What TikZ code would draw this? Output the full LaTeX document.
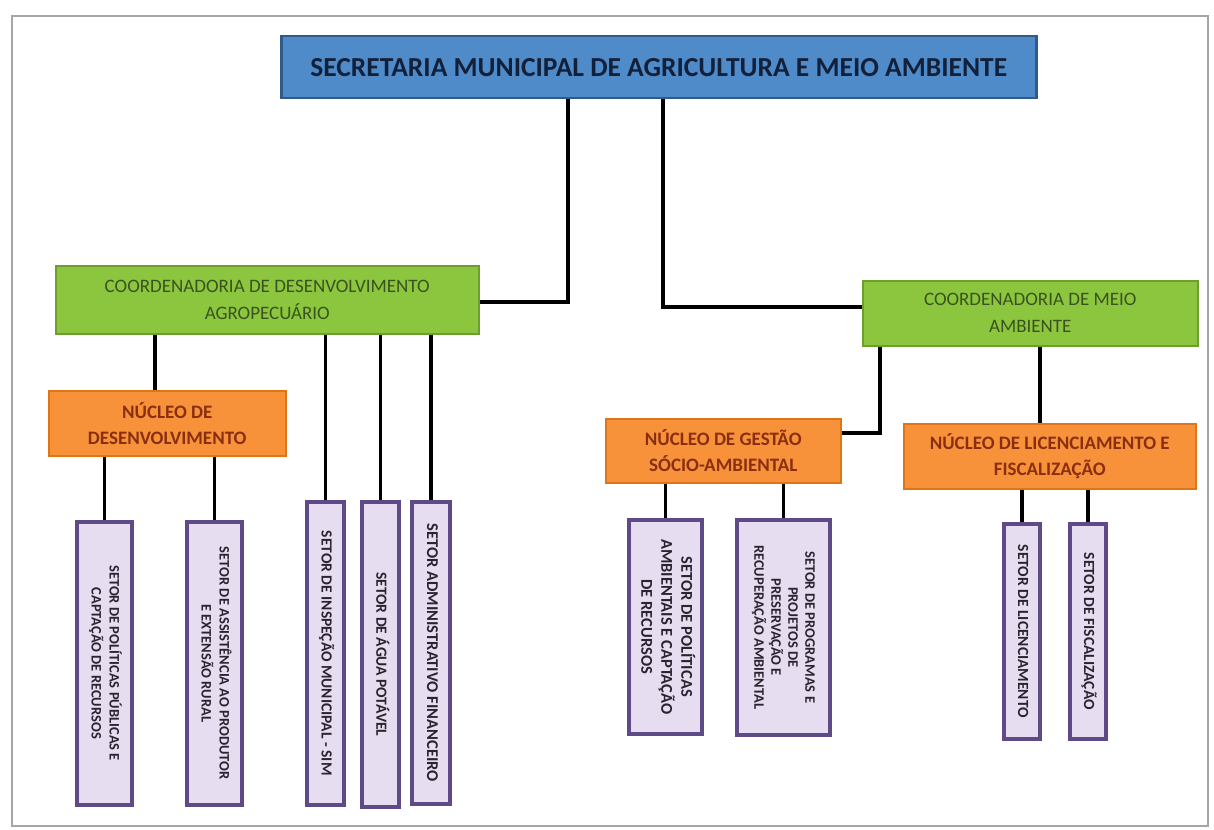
\documentclass[tikz,border=0pt]{standalone}
\usepackage{fontspec}
\setmainfont{Carlito}
\usepackage{graphicx}
\definecolor{topfill}{HTML}{4F8BC9}
\definecolor{topdraw}{HTML}{2F5A8A}
\definecolor{toptext}{HTML}{13203A}
\definecolor{grfill}{HTML}{8CC63F}
\definecolor{grdraw}{HTML}{6E9E2E}
\definecolor{grtext}{HTML}{3A5220}
\definecolor{orfill}{HTML}{F7923A}
\definecolor{ordraw}{HTML}{E07416}
\definecolor{ortext}{HTML}{8A2E12}
\definecolor{pufill}{HTML}{E6DDF0}
\definecolor{pudraw}{HTML}{5E4A86}
\definecolor{putext}{HTML}{2A2430}
\tikzset{
  x=1pt,y=-1pt,
  box/.style={anchor=north west,inner sep=0pt,align=center},
  topbox/.style={box,fill=topfill,draw=topdraw,line width=2.5pt,text=toptext,font=\fontsize{27.5}{30}\selectfont\bfseries},
  coordbox/.style={box,fill=grfill,draw=grdraw,line width=1.5pt,text=grtext,font=\fontsize{19}{27}\selectfont},
  nucbox/.style={box,fill=orfill,draw=ordraw,line width=1.5pt,text=ortext,font=\fontsize{19}{26}\selectfont\bfseries},
  setbox/.style={box,fill=pufill,draw=pudraw,line width=3.5pt,text=putext},
  conn/.style={line width=3.5pt,black},
}
\newcommand{\vtext}[3]{\rotatebox{-90}{\fontsize{#1}{#2}\selectfont\bfseries\begin{tabular}{@{}c@{}}#3\end{tabular}}}
\begin{document}
\begin{tikzpicture}
\useasboundingbox (0,0) rectangle (1214,829);
\fill[white] (0,0) rectangle (1214,829);
\draw[gray!70,line width=1.5pt] (12,16) rectangle (1208,826);

% top
\node[topbox,minimum width=755,minimum height=62] (top) at (280,35) {SECRETARIA MUNICIPAL DE AGRICULTURA E MEIO AMBIENTE};
% coordenadorias
\node[coordbox,minimum width=423,minimum height=68] (agro) at (55,265) {COORDENADORIA DE DESENVOLVIMENTO\\AGROPECUÁRIO};
\node[coordbox,minimum width=335,minimum height=65] (meio) at (862,280) {COORDENADORIA DE MEIO\\AMBIENTE};
% nucleos
\node[nucbox,minimum width=237,minimum height=65] (ndes) at (48,390) {NÚCLEO DE\\DESENVOLVIMENTO};
\node[nucbox,minimum width=235,minimum height=64] (nges) at (605,418) {NÚCLEO DE GESTÃO\\SÓCIO-AMBIENTAL};
\node[nucbox,minimum width=292,minimum height=65] (nlic) at (903,423) {NÚCLEO DE LICENCIAMENTO E\\FISCALIZAÇÃO};
% setores
\node[setbox,minimum width=55,minimum height=283] (s1) at (75,520) {\vtext{14.5}{18}{SETOR DE POLÍTICAS PÚBLICAS E\\CAPTAÇÃO DE RECURSOS}};
\node[setbox,minimum width=55,minimum height=283] (s2) at (185,520) {\vtext{14.5}{18}{SETOR DE ASSISTÊNCIA AO PRODUTOR\\E EXTENSÃO RURAL}};
\node[setbox,minimum width=37,minimum height=303] (s3) at (305,500) {\vtext{15.5}{18}{SETOR DE INSPEÇÃO MUNICIPAL - SIM}};
\node[setbox,minimum width=37,minimum height=305] (s4) at (360,500) {\vtext{15.5}{18}{SETOR DE ÁGUA POTÁVEL}};
\node[setbox,minimum width=38,minimum height=302] (s5) at (410,500) {\vtext{16.5}{18}{SETOR ADMINISTRATIVO FINANCEIRO}};
\node[setbox,minimum width=73,minimum height=214] (s6) at (627,518) {\vtext{16.5}{20}{SETOR DE POLÍTICAS\\AMBIENTAIS E CAPTAÇÃO\\DE RECURSOS}};
\node[setbox,minimum width=93,minimum height=215] (s7) at (735,518) {\vtext{14.5}{17}{SETOR DE PROGRAMAS E\\PROJETOS DE\\PRESERVAÇÃO E\\RECUPERAÇÃO AMBIENTAL}};
\node[setbox,minimum width=36,minimum height=215] (s8) at (1002,522) {\vtext{15.5}{18}{SETOR DE LICENCIAMENTO}};
\node[setbox,minimum width=36,minimum height=215] (s9) at (1068,522) {\vtext{15.5}{18}{SETOR DE FISCALIZAÇÃO}};

% junctions
\coordinate (j1) at (568,302);
\coordinate (j2) at (663,307);
\coordinate (j3) at (880,433);
\coordinate (c1) at (155,0);
\coordinate (c2) at (1040,0);

\draw[conn] (top.south -| j1) -- (j1) -- (agro.east |- j1);
\draw[conn] (top.south -| j2) -- (j2) -- (meio.west |- j2);
\draw[conn] (agro.south -| c1) -- (ndes.north -| c1);
\draw[conn] (agro.south -| s3.north) -- (s3.north);
\draw[conn] (agro.south -| s4.north) -- (s4.north);
\draw[conn] (agro.south -| s5.north) -- (s5.north);
\draw[conn] (ndes.south -| s1.north) -- (s1.north);
\draw[conn] (ndes.south -| s2.north) -- (s2.north);
\draw[conn] (meio.south -| j3) -- (j3) -- (nges.east |- j3);
\draw[conn] (meio.south -| c2) -- (nlic.north -| c2);
\draw[conn] (nges.south -| s6.north) -- (s6.north);
\draw[conn] (nges.south -| s7.north) -- (s7.north);
\draw[conn] (nlic.south -| s8.north) -- (s8.north);
\draw[conn] (nlic.south -| s9.north) -- (s9.north);
\end{tikzpicture}
\end{document}
